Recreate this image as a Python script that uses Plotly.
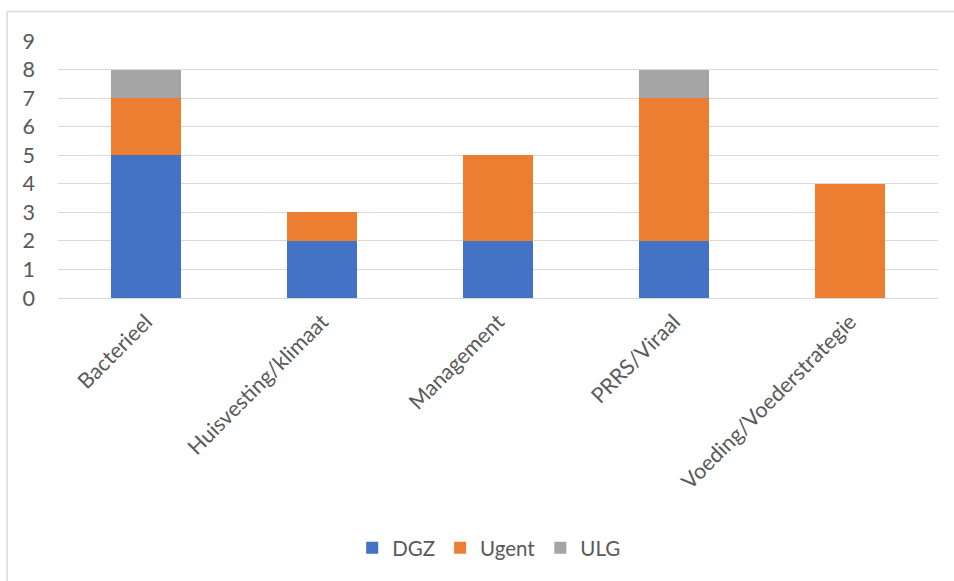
import plotly.graph_objects as go

categories = ["Bacterieel", "Huisvesting/klimaat", "Management", "PRRS/Viraal", "Voeding/Voederstrategie"]
dgz = [5, 2, 2, 2, 0]
ugent = [2, 1, 3, 5, 4]
ulg = [1, 0, 0, 1, 0]
y_ticks = [0, 1, 2, 3, 4, 5, 6, 7, 8, 9]

series = [("DGZ", dgz, "#4472C4"), ("Ugent", ugent, "#ED7D31"), ("ULG", ulg, "#A5A5A5")]

W, H = 954, 581
ML, MR, MT, MB = 58, 16, 41, 283

fig = go.Figure()
for name, vals, color in series:
    fig.add_trace(go.Bar(x=categories, y=vals, name=name,
                         marker=dict(color=color, line=dict(width=0))))

font = dict(family="Lato, Calibri, sans-serif", size=21.5, color="#595959")
legend_font = dict(family="Lato, Calibri, sans-serif", size=20.5, color="#595959")

# outer chart frame (left and top edges visible)
pw, ph = W - ML - MR, H - MT - MB
fx = (7 - ML) / pw
fy = (H - MB - 11.5) / ph
frame = dict(color="#D9D9D9", width=1.5)

fig.update_layout(
    width=W, height=H,
    margin=dict(l=ML, r=MR, t=MT, b=MB),
    barmode="stack", bargap=0.6,
    plot_bgcolor="white", paper_bgcolor="white",
    font=font,
    showlegend=True,
    legend=dict(orientation="h", x=0.49, xanchor="center", y=(H - MB - 548) / ph,
                yanchor="middle", font=legend_font, traceorder="normal",
                itemwidth=30, tracegroupgap=0),
    xaxis=dict(tickangle=-45, showgrid=False, showline=False, zeroline=False,
               ticks="", ticklabelstandoff=6, tickfont=font),
    yaxis=dict(range=[0, 9], tickvals=y_ticks, showgrid=True, gridcolor="#D9D9D9",
               gridwidth=1.3, zeroline=True, zerolinecolor="#D9D9D9", zerolinewidth=1.3,
               showline=False, ticks="", ticklabelstandoff=22, tickfont=font),
    shapes=[
        dict(type="line", xref="paper", yref="paper", x0=fx, x1=(W - ML) / pw + 0.01,
             y0=fy, y1=fy, line=frame),
        dict(type="line", xref="paper", yref="paper", x0=fx, x1=fx,
             y0=fy, y1=-(MB + 5) / ph, line=frame),
    ],
)

fig.write_html("out.html")
